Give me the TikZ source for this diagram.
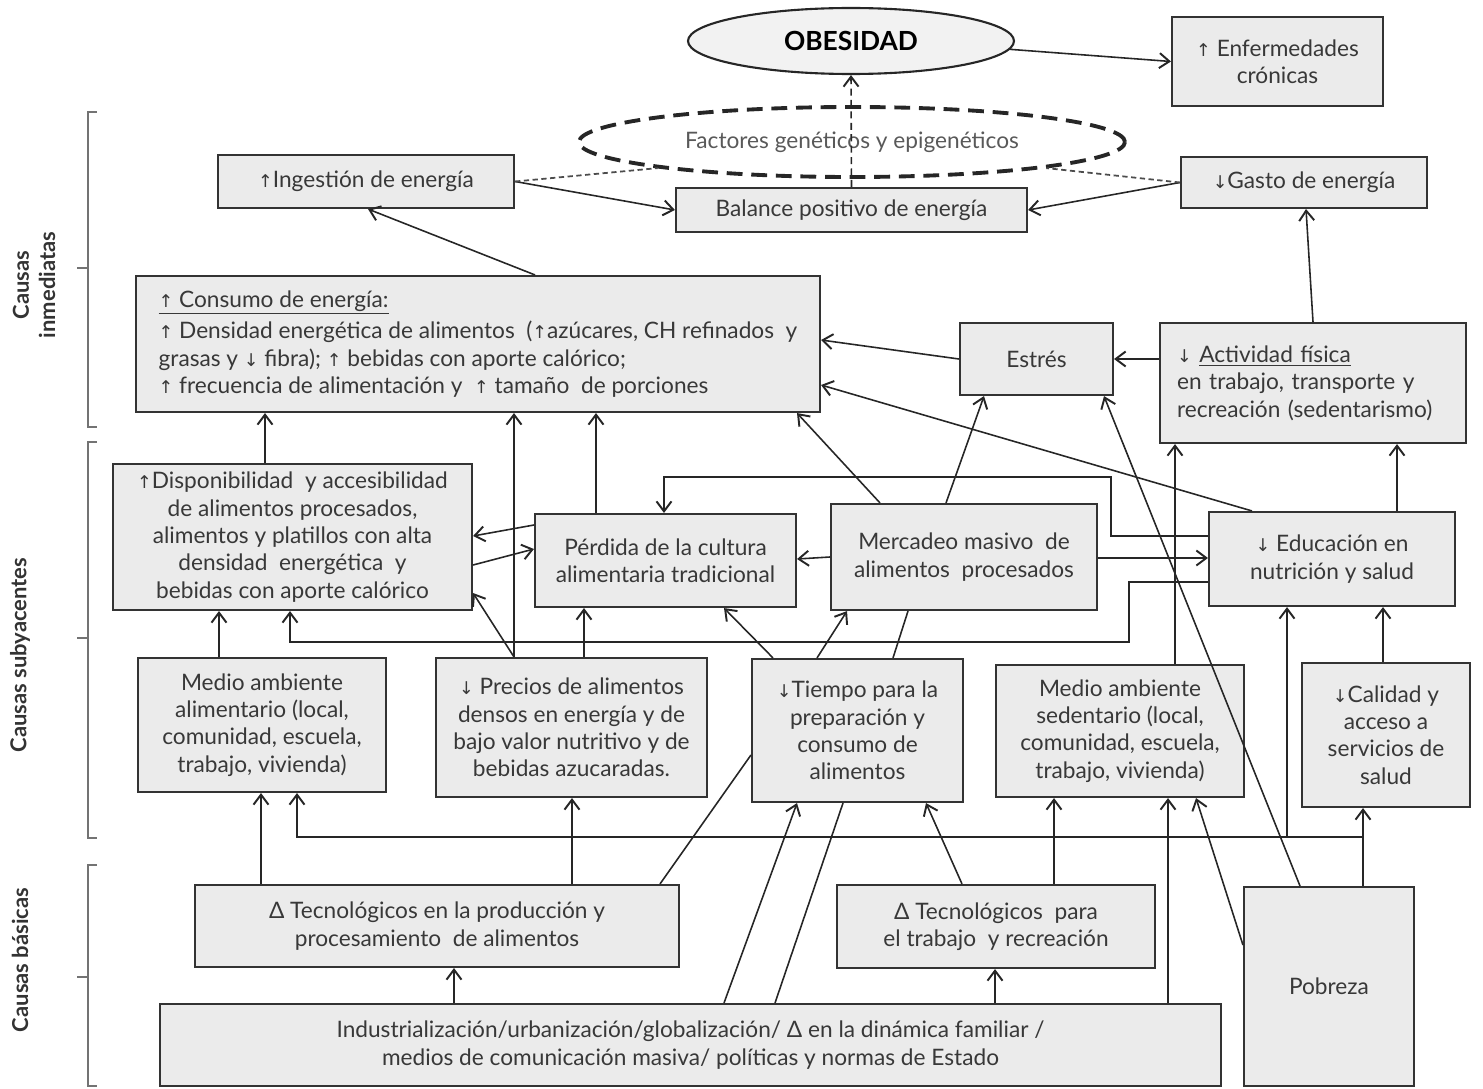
\documentclass[tikz,border=0pt]{standalone}
\usepackage{fontspec}
\setmainfont{Lato}
\newfontfamily\arrfont{DejaVu Sans}
\newcommand{\ua}{{\arrfont\fontsize{10}{12}\selectfont ↑}}
\newcommand{\da}{{\arrfont\fontsize{10}{12}\selectfont ↓}}
\usetikzlibrary{arrows.meta,shapes.geometric}
\begin{document}
\begin{tikzpicture}[x=0.02cm,y=-0.02cm,
  bx/.style={draw=black!80, line width=1.2pt, fill=black!8, align=center, inner sep=2pt, text=black!78, font=\fontsize{12.9}{15.6}\selectfont},
  sz/.style 2 args={minimum width=#1*0.02cm, minimum height=#2*0.02cm},
  con/.style={line width=0.9pt, draw=black!85},
  arr/.style={con, -{Straight Barb[length=2mm,width=3mm,line width=1.1pt]}},
  dotl/.style={line width=1pt, draw=black!70, dash pattern=on 3pt off 2pt},
  brk/.style={line width=1.2pt, draw=black!55},
  lbl/.style={rotate=90, align=center, text=black!80, font=\fontsize{12.5}{15}\selectfont\bfseries}
]
\useasboundingbox (0,0) rectangle (1483,1088);
\foreach \v in {219,261,265,290,297,368,454,514,535,572,584,596,660,664,724,773,775,797,817,843,847,880,893,908,926,946,962,984,995,1054,1104,1111,1129,1168,1175,1196,1252,1287,1300,1306,1313,1363,1383,1397}
  \coordinate (x\v) at (\v,0);
\foreach \v in {340,385,477,525,536,549,557,558,559,565,582,593,642,755,837,945}
  \coordinate (y\v) at (0,\v);

% nodes
\node[ellipse, draw=black!85, line width=1.2pt, fill=black!5, sz={326}{66}, inner sep=0pt, font=\fontsize{15}{18}\selectfont\bfseries] (obes) at (851,41) {OBESIDAD};
\node[bx, sz={211}{89}] (enf) at (1277.5,61.5) {\ua\ Enfermedades\\crónicas};
\node[ellipse, draw=black!85, line width=2.2pt, dash pattern=on 9pt off 5pt, sz={546}{70}, inner sep=0pt, text=black!65, font=\fontsize{12.9}{15.6}\selectfont] (fact) at (852,142) {Factores genéticos y epigenéticos};
\node[bx, sz={296}{53}] (ing) at (366,181.5) {\ua Ingestión de energía};
\node[bx, sz={351}{44}] (bal) at (851.5,210) {Balance positivo de energía};
\node[bx, sz={246}{51}] (gas) at (1304,182.5) {\da Gasto de energía};
\node[bx, sz={684}{136}, align=left] (cons) at (478,344)
  {\underline{\ua\ Consumo de energía:}\\[2.5pt]
   \ua\ Densidad energética de alimentos\ \ (\ua azúcares, CH refinados\ \ y\\
   grasas y \da\ fibra); \ua\ bebidas con aporte calórico;\\
   \ua\ frecuencia de alimentación y\ \ \ua\ tamaño\ \ de porciones};
\node[bx, sz={153}{72}] (est) at (1036.5,359) {Estrés};
\node[bx, sz={306}{120}, align=left, text width=5.44cm, inner xsep=0.34cm] (act) at (1313,383)
  {\da\ \underline{Actividad física}\\ en trabajo, transporte y\\recreación (sedentarismo)};
\node[bx, sz={359}{146}] (disp) at (292.5,537) {\ua Disponibilidad\ \ y accesibilidad\\de alimentos procesados,\\alimentos y platillos con alta\\densidad\ \ energética\ \ y\\bebidas con aporte calórico};
\node[bx, sz={261}{93}] (perd) at (665.5,560.5) {Pérdida de la cultura\\alimentaria tradicional};
\node[bx, sz={266}{106}] (merc) at (964,557) {Mercadeo masivo\ \ de\\alimentos\ \ procesados};
\node[bx, sz={246}{94}] (edu) at (1332,559) {\da\ Educación en\\nutrición y salud};
\node[bx, sz={248}{134}] (mal) at (262,725) {Medio ambiente\\alimentario (local,\\comunidad, escuela,\\trabajo, vivienda)};
\node[bx, sz={271}{139}] (prec) at (571.5,727.5) {\da\ Precios de alimentos\\densos en energía y de\\bajo valor nutritivo y de\\bebidas azucaradas.};
\node[bx, sz={211}{143}] (tiem) at (857.5,730.5) {\da Tiempo para la\\preparación y\\consumo de\\alimentos};
\node[bx, sz={248}{132}] (msed) at (1120,731) {Medio ambiente\\sedentario (local,\\comunidad, escuela,\\trabajo, vivienda)};
\node[bx, sz={168}{144}] (cal) at (1386,735) {\da Calidad y\\acceso a\\servicios de\\salud};
\node[bx, sz={484}{82}] (tecp) at (437,926) {Δ Tecnológicos en la producción y\\procesamiento\ \ de alimentos};
\node[bx, sz={318}{83}] (tect) at (996,926.5) {Δ Tecnológicos\ \ para\\el trabajo\ \ y recreación};
\node[bx, sz={170}{199}] (pob) at (1329,986.5) {Pobreza};
\node[bx, sz={1061}{82}] (ind) at (690.5,1045) {Industrialización/urbanización/globalización/ Δ en la dinámica familiar /\\medios de comunicación masiva/ políticas y normas de Estado};

% brackets and labels
\draw[brk] (97,112) -- (88,112) -- (88,427) -- (97,427) (88,268) -- (77,268);
\draw[brk] (97,442) -- (88,442) -- (88,838) -- (97,838) (88,638) -- (77,638);
\draw[brk] (97,865) -- (88,865) -- (88,1086) -- (97,1086) (88,977) -- (77,977);
\node[lbl] (l1) at (34,285) {Causas\\inmediatas};
\node[lbl] (l2) at (20,655) {Causas subyacentes};
\node[lbl] (l3) at (20,960) {Causas básicas};

% top connectors
\draw[arr] (obes.-3) -- (enf.west);
\draw[arr, dash pattern=on 4pt off 2.5pt] (bal.north) -- (obes.south);
\draw[arr] (ing.east) -- (bal.west);
\draw[arr] (gas.west) -- (bal.east);
\draw[dotl] (ing.east) -- (fact.south west);
\draw[dotl] (gas.west) -- (fact.south east);
\draw[arr] (cons.north -| x535) -- (ing.south -| x368);
\draw[arr] (act.north -| x1313) -- (gas.south -| x1306);
\draw[arr] (act.west |- est.east) -- (est.east);
\draw[arr] (est.west) -- (cons.east |- y340);
\draw[arr] (edu.north -| x1252) -- (cons.east |- y385);
\draw[arr] (merc.north -| x880) -- (cons.south -| x797);
\draw[arr] (merc.north -| x946) -- (est.south -| x984);

% middle connectors
\draw[arr] (disp.north -| x265) -- (cons.south -| x265);
\draw[arr] (prec.north -| x514) -- (cons.south -| x514);
\draw[arr] (perd.north -| x596) -- (cons.south -| x596);
\draw[arr] (perd.west |- y525) -- (disp.east |- y536);
\draw[arr] (disp.east |- y565) -- (perd.west |- y549);
\draw[arr] (merc.west |- y557) -- (perd.east |- y559);
\draw[arr] (merc.east |- y558) -- (edu.west |- y558);
\draw[arr] (edu.west |- y536) -| (x1111 |- y477) -| (perd.north -| x664);
\draw[arr] (edu.west |- y582) -| (x1129 |- y642) -| (disp.south -| x290);
\draw[arr] (mal.north -| x219) -- (disp.south -| x219);
\draw[arr] (prec.north -| x514) -- (disp.east |- y593);
\draw[arr] (prec.north -| x584) -- (perd.south -| x584);
\draw[arr] (tiem.north -| x773) -- (perd.south -| x724);
\draw[arr] (tiem.north -| x817) -- (merc.south -| x847);
\draw[con] (merc.south -| x908) -- (tiem.north -| x893);
\draw[arr] (msed.north -| x1175) -- (act.south -| x1175);
\draw[arr] (edu.north -| x1397) -- (act.south -| x1397);
\draw[arr] (cal.north -| x1383) -- (edu.south -| x1383);
\draw[arr] (pob.north -| x1300) -- (est.south -| x1104);

% poverty branches
\coordinate (jn) at (x1363 |- y837);
\draw[arr] (pob.north -| x1363) -- (cal.south -| x1363);
\draw[arr] (jn) -| (mal.south -| x297);
\draw[arr] (x1287 |- y837) -- (edu.south -| x1287);
\draw[arr] (pob.west |- y945) -- (msed.south -| x1196);

% bottom connectors
\draw[arr] (tecp.north -| x261) -- (mal.south -| x261);
\draw[arr] (tecp.north -| x572) -- (prec.south -| x572);
\draw[con] (tecp.north -| x660) -- (tiem.west |- y755);
\draw[arr] (ind.north -| x454) -- (tecp.south -| x454);
\draw[arr] (ind.north -| x724) -- (tiem.south -| x797);
\draw[con] (tiem.south -| x843) -- (ind.north -| x775);
\draw[arr] (tect.north -| x962) -- (tiem.south -| x926);
\draw[arr] (tect.north -| x1054) -- (msed.south -| x1054);
\draw[arr] (ind.north -| x995) -- (tect.south -| x995);
\draw[arr] (ind.north -| x1168) -- (msed.south -| x1168);
\end{tikzpicture}
\end{document}
